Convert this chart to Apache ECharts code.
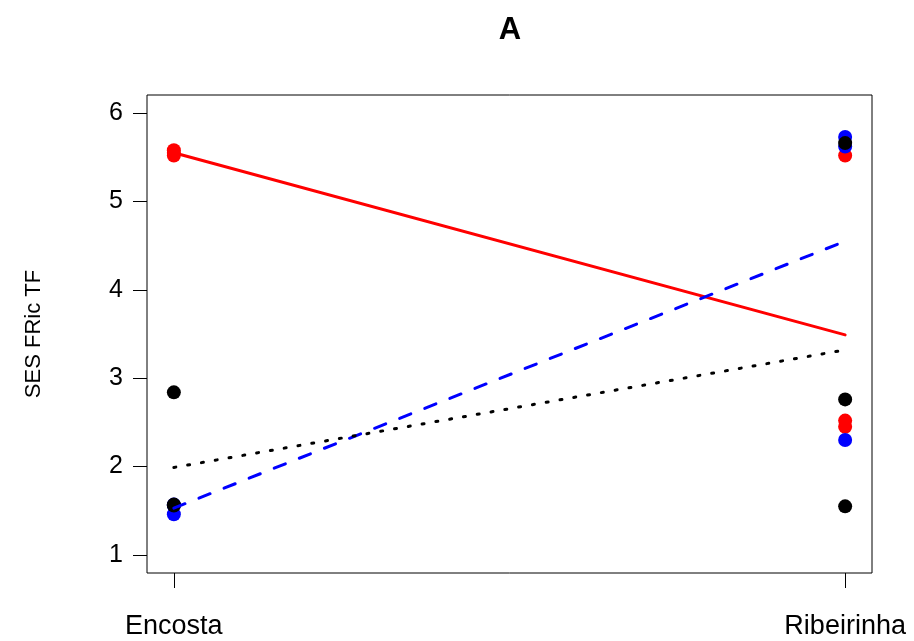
<!DOCTYPE html>
<html>
<head>
<meta charset="utf-8">
<script src="https://cdn.jsdelivr.net/npm/echarts@6/dist/echarts.min.js"></script>
<style>html,body{margin:0;padding:0;background:#fff}#c{width:914px;height:641px}</style>
</head>
<body>
<div id="c"></div>
<script>
// Categories (x positions 1 and 2)
const categories = ["Encosta", "Ribeirinha"];
const yTicks = [1, 2, 3, 4, 5, 6];

// Points per group: [Encosta values], [Ribeirinha values]
const redEncosta = [5.58, 5.55, 5.52];
const redRibeirinha = [5.52, 2.52, 2.45];
const blueEncosta = [1.46, 1.56, 1.57];
const blueRibeirinha = [5.73, 5.62, 2.30];
const blackEncosta = [2.84, 1.57, 1.56];
const blackRibeirinha = [5.66, 2.76, 1.55];

// Fitted lines: [value at Encosta, value at Ribeirinha]
const redLine = [5.55, 3.49];
const blueLine = [1.53, 4.55];
const blackLine = [1.99, 3.32];

function pts(a, b) {
  return a.map(v => [1, v]).concat(b.map(v => [2, v]));
}
function ln(v) { return [[1, v[0]], [2, v[1]]]; }

const FONT = "Liberation Sans, Arial, Helvetica, sans-serif";
const chart = echarts.init(document.getElementById('c'), null, {renderer: 'canvas'});
chart.setOption({
  animation: false,
  backgroundColor: '#fff',
  title: {
    text: 'A', left: 505, top: 10, textAlign: 'center',
    textStyle: {fontFamily: FONT, fontSize: 31, fontWeight: 'bold', color: '#000'}
  },
  grid: {left: 147, right: 42, top: 95, bottom: 68, show: true, borderColor: '#000', borderWidth: 1, containLabel: false},
  xAxis: {
    type: 'value', min: 0.96, max: 2.04,
    splitLine: {show: false},
    axisLine: {show: false},
    axisTick: {show: true, customValues: [1, 2], length: 15, lineStyle: {color: '#000', width: 1}},
    axisLabel: {show: true, customValues: [1, 2], margin: 40, color: '#000', fontFamily: FONT, fontSize: 27,
      formatter: v => categories[Math.round(v) - 1] || ''}
  },
  yAxis: {
    type: 'value', min: 0.796, max: 6.204,
    name: 'SES FRic TF', nameLocation: 'middle', nameGap: 102, nameRotate: 90,
    nameTextStyle: {fontFamily: FONT, fontSize: 22, color: '#000'},
    splitLine: {show: false},
    axisLine: {show: false},
    axisTick: {show: true, customValues: yTicks, length: 14, lineStyle: {color: '#000', width: 1}},
    axisLabel: {show: true, customValues: yTicks, margin: 24, color: '#000', fontFamily: FONT, fontSize: 25,
      formatter: v => String(Math.round(v))}
  },
  series: [
    {type: 'scatter', data: pts(redEncosta, redRibeirinha), symbolSize: 14, itemStyle: {color: '#FF0000', opacity: 1}, silent: true},
    {type: 'scatter', data: pts(blueEncosta, blueRibeirinha), symbolSize: 14, itemStyle: {color: '#0000FF', opacity: 1}, silent: true},
    {type: 'scatter', data: pts(blackEncosta, blackRibeirinha), symbolSize: 14, itemStyle: {color: '#000000', opacity: 1}, silent: true},
    {type: 'line', data: ln(redLine), symbol: 'none', lineStyle: {color: '#FF0000', width: 3, cap: 'round'}, silent: true},
    {type: 'line', data: ln(blueLine), symbol: 'none', lineStyle: {color: '#0000FF', width: 3, type: [12, 15], cap: 'round'}, silent: true},
    {type: 'line', data: ln(blackLine), symbol: 'none', lineStyle: {color: '#000000', width: 3, type: [2, 12], cap: 'round'}, silent: true}
  ]
});
</script>
</body>
</html>
